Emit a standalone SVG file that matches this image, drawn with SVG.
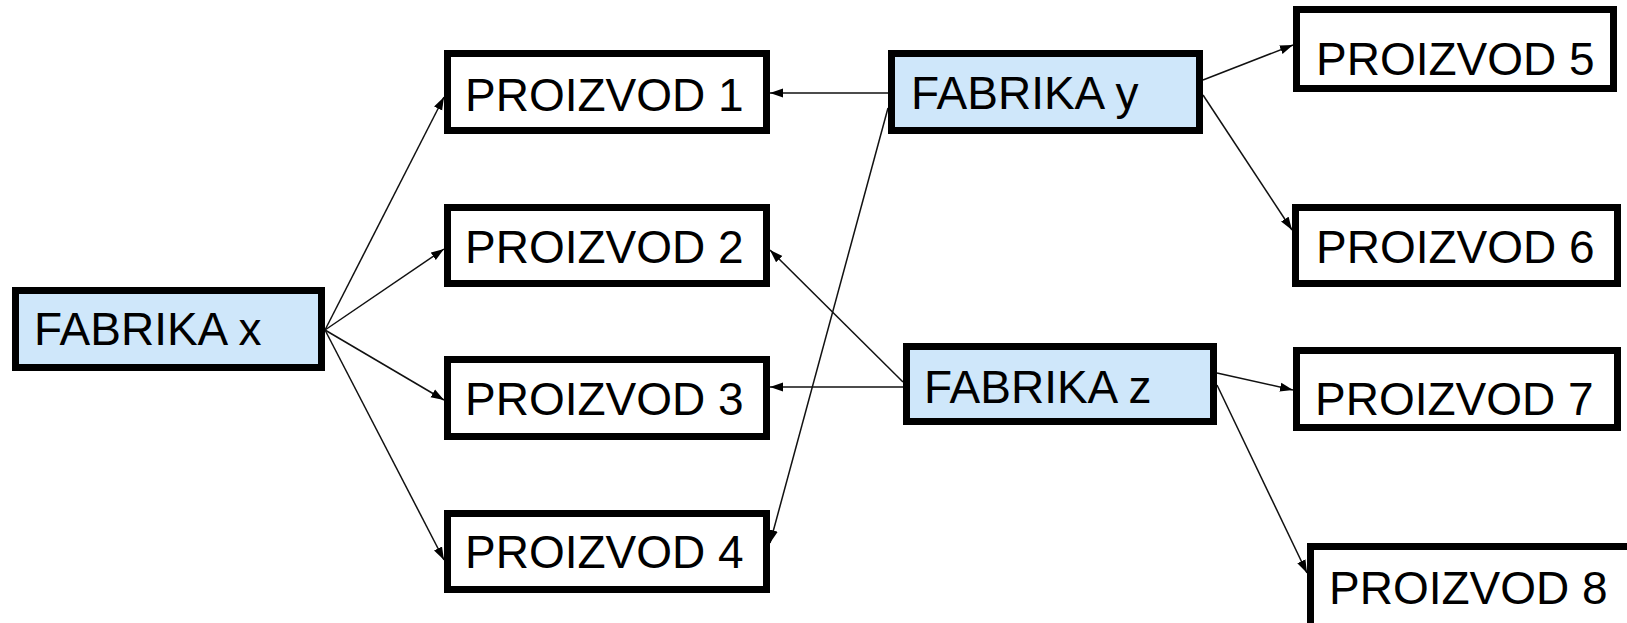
<svg xmlns="http://www.w3.org/2000/svg" width="1627" height="623" viewBox="0 0 1627 623">
<defs>
<marker id="arr" markerUnits="userSpaceOnUse" markerWidth="14" markerHeight="10" refX="13" refY="5" orient="auto">
<path d="M0,0.5 L13,5 L0,9.5 z" fill="#000"/>
</marker>
<style>
.box{stroke:#000;stroke-width:7;fill:#fff}
.fab{fill:#cfe7fa}
.lbl{font-family:"Liberation Sans",Arial,sans-serif;font-size:46px;fill:#000}
.con line{stroke:#111;stroke-width:1.5;marker-end:url(#arr)}
</style>
</defs>
<rect width="1627" height="623" fill="#fff"/>
<g id="connectors" class="con">
<line x1="325" y1="330" x2="444" y2="97"/>
<line x1="325" y1="330" x2="444" y2="249"/>
<line x1="325" y1="330" x2="444" y2="400"/>
<line x1="325" y1="330" x2="444" y2="560"/>
<line x1="888" y1="93" x2="770" y2="93"/>
<line x1="888" y1="108" x2="770" y2="543"/>
<line x1="1203" y1="80" x2="1293" y2="45"/>
<line x1="1203" y1="95" x2="1292" y2="230"/>
<line x1="903" y1="382" x2="770" y2="250"/>
<line x1="903" y1="387" x2="770" y2="387"/>
<line x1="1217" y1="373" x2="1293" y2="390"/>
<line x1="1217" y1="385" x2="1307" y2="573"/>
</g>
<g id="fabrika-x"><rect class="box fab" x="15.5" y="290.5" width="306" height="77"/><text class="lbl" x="34" y="345">FABRIKA x</text></g>
<g id="fabrika-y"><rect class="box fab" x="891.5" y="53.5" width="308" height="77"/><text class="lbl" x="911" y="109">FABRIKA y</text></g>
<g id="fabrika-z"><rect class="box fab" x="906.5" y="346.5" width="307" height="75"/><text class="lbl" x="924" y="403">FABRIKA z</text></g>
<g id="proizvod-1"><rect class="box" x="447.5" y="53.5" width="319" height="77"/><text class="lbl" x="465" y="111">PROIZVOD 1</text></g>
<g id="proizvod-2"><rect class="box" x="447.5" y="207.5" width="319" height="76"/><text class="lbl" x="465" y="263">PROIZVOD 2</text></g>
<g id="proizvod-3"><rect class="box" x="447.5" y="359.5" width="319" height="77"/><text class="lbl" x="465" y="415">PROIZVOD 3</text></g>
<g id="proizvod-4"><rect class="box" x="447.5" y="513.5" width="319" height="76"/><text class="lbl" x="465" y="568">PROIZVOD 4</text></g>
<g id="proizvod-5"><rect class="box" x="1296.5" y="9.5" width="317" height="79"/><text class="lbl" x="1316" y="75">PROIZVOD 5</text></g>
<g id="proizvod-6"><rect class="box" x="1295.5" y="207.5" width="322" height="76"/><text class="lbl" x="1316" y="263">PROIZVOD 6</text></g>
<g id="proizvod-7"><rect class="box" x="1296.5" y="350.5" width="321" height="77"/><text class="lbl" x="1315" y="415">PROIZVOD 7</text></g>
<g id="proizvod-8"><rect class="box" x="1310.5" y="546.5" width="330" height="90"/><text class="lbl" x="1329" y="604">PROIZVOD 8</text></g>
</svg>
